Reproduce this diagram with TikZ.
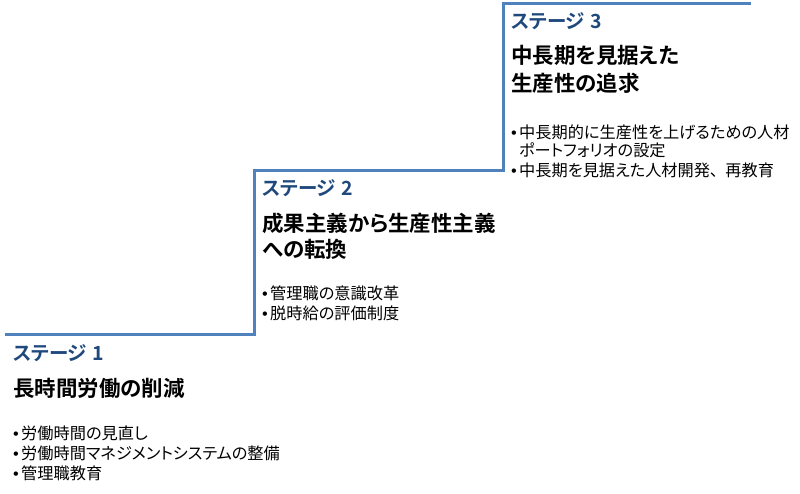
\documentclass[tikz,border=0pt]{standalone}
\usepackage{fontspec}
\newfontfamily\jp[RawFeature=+palt,BoldFont={Noto Sans CJK JP Bold}]{Noto Sans CJK JP}
\newfontfamily\bul{Liberation Sans}
\definecolor{stairblue}{RGB}{79,129,189}
\definecolor{stagecol}{RGB}{31,73,125}
\newcommand{\bp}{\makebox[8pt][l]{\bul •}}
\begin{document}
\begin{tikzpicture}[x=1pt,y=-1pt,
  stagelabel/.style={anchor=west,inner sep=0pt,text=stagecol,font=\jp\bfseries\fontsize{19.5}{22}\selectfont},
  titletext/.style={anchor=west,inner sep=0pt,font=\jp\bfseries\fontsize{21.5}{24}\selectfont},
  bullettext/.style={anchor=west,inner sep=0pt,font=\jp\fontsize{16.2}{18}\selectfont},
  stair/.style={draw=stairblue,line width=3pt,line join=miter}]
\useasboundingbox (0,0) rectangle (800,493);
% staircase
\coordinate (s0) at (5,334);
\coordinate (s1) at (254,334);
\coordinate (s2) at (254,170);
\coordinate (s3) at (503,170);
\coordinate (s4) at (503,3);
\coordinate (s5) at (751,3);
\draw[stair] (s0) -- (s1) -- (s2) -- (s3) -- (s4) -- (s5);
% stage 1
\node[stagelabel] (l1) at (13,353) {ステージ\kern0.3em 1};
\node[titletext] (t1) at (13,388) {長時間労働の削減};
\node[bullettext] (b1a) at (13,433) {\bp 労働時間の見直し};
\node[bullettext] (b1b) at (13,453) {\bp 労働時間マネジメントシステムの整備};
\node[bullettext] (b1c) at (13,473) {\bp 管理職教育};
% stage 2
\node[stagelabel] (l2) at (262,188) {ステージ\kern0.3em 2};
\node[titletext] (t2a) at (262,223) {成果主義から生産性主義};
\node[titletext] (t2b) at (262,249) {への転換};
\node[bullettext] (b2a) at (262,293) {\bp 管理職の意識改革};
\node[bullettext] (b2b) at (262,313) {\bp 脱時給の評価制度};
% stage 3
\node[stagelabel] (l3) at (511,21) {ステージ\kern0.3em 3};
\node[titletext] (t3a) at (511,55) {中長期を見据えた};
\node[titletext] (t3b) at (511,83) {生産性の追求};
\node[bullettext] (b3a) at (511,132) {\bp 中長期的に生産性を上げるための人材};
\node[bullettext] (b3b) at (519,150) {ポートフォリオの設定};
\node[bullettext] (b3c) at (511,170) {\bp 中長期を見据えた人材開発、\kern0.45em 再教育};
\end{tikzpicture}
\end{document}
